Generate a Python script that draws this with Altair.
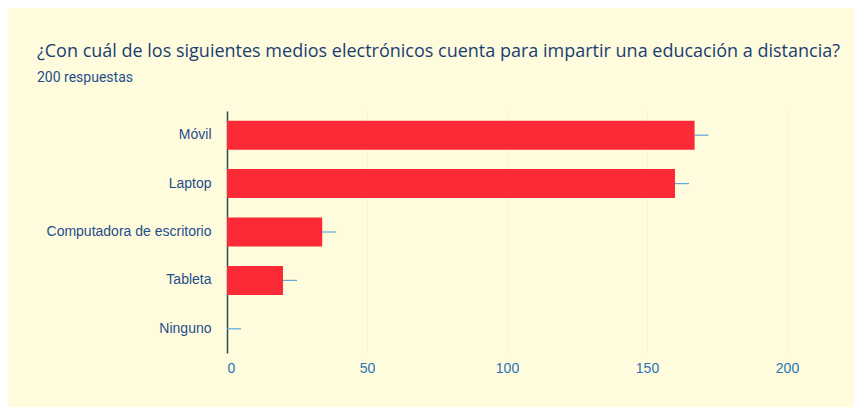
import altair as alt
import pandas as pd

categories = ["Móvil", "Laptop", "Computadora de escritorio", "Tableta", "Ninguno"]
values = [167, 160, 34, 20, 0]
err = [5, 5, 5, 5, 5]
x_ticks = [0, 50, 100, 150, 200]

df = pd.DataFrame({
    "cat": categories,
    "val": values,
    "hi": [v + e for v, e in zip(values, err)],
})

y_enc = alt.Y("cat:N", sort=categories, title=None,
              scale=alt.Scale(paddingInner=0.4, paddingOuter=0.2),
              axis=alt.Axis(labelFont="Liberation Sans", labelFontSize=14, labelColor="#1f4e8c",
                            ticks=False, labelPadding=16, domainColor="#22504f", domainWidth=1.5,
                            grid=False))
x_scale = alt.Scale(domain=[0, 220], nice=False)

bars = alt.Chart(df).mark_bar(color="#fc2a37").encode(
    x=alt.X("val:Q", scale=x_scale, title=None,
            axis=alt.Axis(values=x_ticks, labelFont="Liberation Sans", labelFontSize=14,
                          labelColor="#2a73b8", domain=False, ticks=False, labelPadding=8,
                          grid=True, gridColor="#f6f3d3", gridWidth=1)),
    y=y_enc,
)

errs = alt.Chart(df).mark_rule(color="#5fa8e0", strokeWidth=1.2).encode(
    x=alt.X("val:Q", scale=x_scale),
    x2="hi:Q",
    y=alt.Y("cat:N", sort=categories),
)

chart = alt.layer(errs, bars).properties(
    width=616,
    height=242,
    autosize=alt.AutoSizeParams(type="none"),
    padding={"left": 219, "top": 103, "right": 11, "bottom": 54},
    background="#fefcdc",
    title=alt.TitleParams(
        text="¿Con cuál de los siguientes medios electrónicos cuenta para impartir una educación a distancia?",
        subtitle="200 respuestas",
        anchor="start",
        frame="group",
        dx=-190,
        offset=26,
        font="Open Sans",
        fontSize=18,
        fontWeight="normal",
        color="#1b3d73",
        subtitleFont="Roboto",
        subtitleFontSize=14,
        subtitleColor="#1f4e8c",
        subtitlePadding=10,
    ),
).configure_view(stroke=None)

chart.save("out.html", embed_options={"renderer": "svg", "actions": False})
